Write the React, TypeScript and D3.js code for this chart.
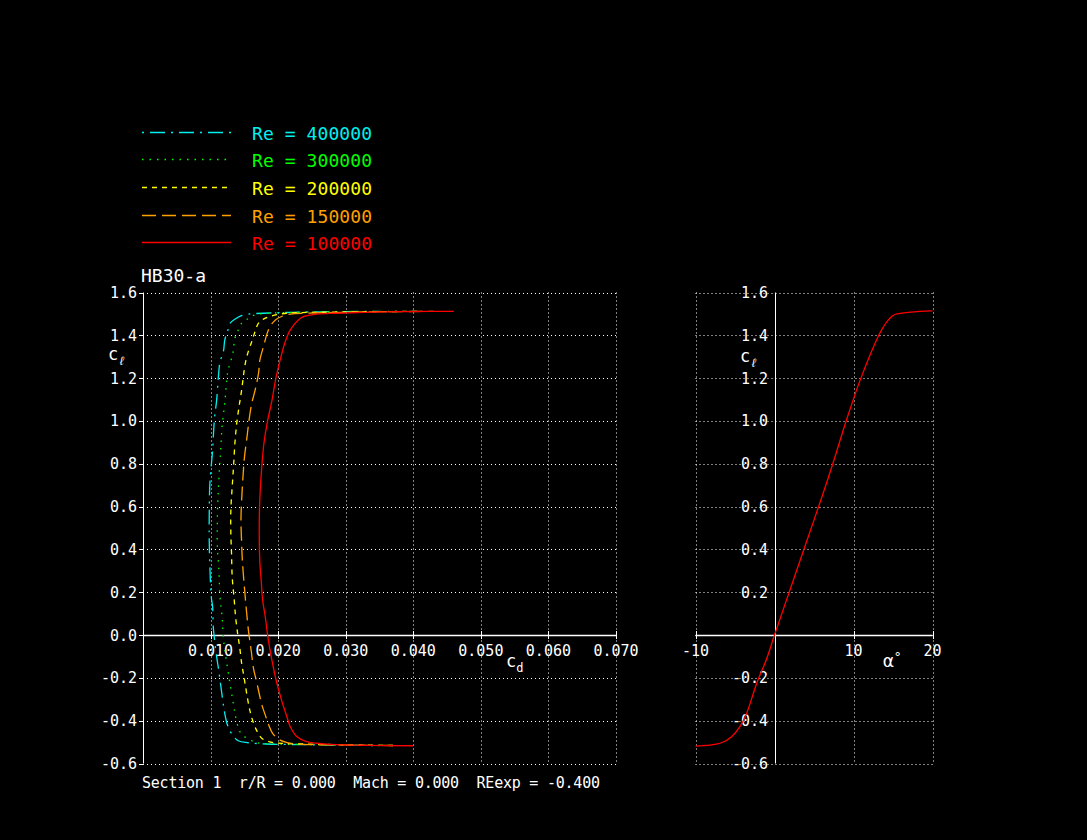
import React from "react";
import * as d3 from "d3";

// ---------- data ----------
const reLabels = ["400000", "300000", "200000", "150000", "100000"];
const seriesColors = ["#00f0f0", "#00ff00", "#ffff00", "#ffa000", "#ff0000"];
const seriesDash = ["2,6,15,6", "1.5,6", "5,5", "14,6", ""];

// drag polars: cl and cd, ordered from bottom plateau end to top plateau end
const cl400 = [-0.516, -0.514, -0.512, -0.509, -0.503, -0.494, -0.46, -0.42, -0.366, -0.327, -0.164, -0.101, -0.014, 0.039, 0.132, 0.179, 0.319, 0.444, 0.553, 0.71, 0.864, 1.005, 1.098, 1.223, 1.277, 1.324, 1.378, 1.417, 1.457, 1.475, 1.49, 1.499, 1.503, 1.508, 1.511, 1.512];
const cd400 = [0.0340, 0.0290, 0.0240, 0.0183, 0.0156, 0.0141, 0.0131, 0.0125, 0.0121, 0.0119, 0.0112, 0.0109, 0.01056, 0.0104, 0.0103, 0.0101, 0.0099, 0.0098, 0.0098, 0.0099, 0.0103, 0.01056, 0.0109, 0.0112, 0.0114, 0.0119, 0.0121, 0.0125, 0.0129, 0.0136, 0.0144, 0.0156, 0.0178, 0.0230, 0.0300, 0.0350];

const cl300 = [-0.516, -0.514, -0.511, -0.506, -0.498, -0.463, -0.431, -0.366, -0.327, -0.132, -0.016, 0.086, 0.179, 0.319, 0.413, 0.537, 0.646, 0.771, 0.864, 0.974, 1.084, 1.192, 1.238, 1.316, 1.386, 1.425, 1.457, 1.475, 1.49, 1.499, 1.506, 1.510, 1.512];
const cd300 = [0.0350, 0.0300, 0.0240, 0.0176, 0.0164, 0.0146, 0.0141, 0.0136, 0.0134, 0.0124, 0.0119, 0.0117, 0.0114, 0.0112, 0.0110, 0.0110, 0.0111, 0.0113, 0.0115, 0.0117, 0.0121, 0.0124, 0.0126, 0.0133, 0.0136, 0.0141, 0.0146, 0.0154, 0.0161, 0.0171, 0.0213, 0.0300, 0.0380];

const cl200 = [-0.516, -0.514, -0.510, -0.506, -0.501, -0.483, -0.444, -0.397, -0.335, -0.187, -0.132, -0.054, 0.008, 0.086, 0.164, 0.272, 0.382, 0.475, 0.584, 0.693, 0.787, 0.896, 0.997, 1.084, 1.145, 1.262, 1.316, 1.371, 1.41, 1.457, 1.48, 1.495, 1.503, 1.509, 1.512];
const cd200 = [0.0370, 0.0320, 0.0260, 0.0208, 0.0191, 0.0176, 0.0168, 0.0162, 0.0157, 0.0149, 0.0146, 0.0143, 0.0140, 0.0137, 0.0135, 0.0132, 0.0131, 0.0130, 0.0130, 0.0132, 0.0134, 0.0136, 0.0139, 0.0143, 0.0146, 0.0151, 0.0155, 0.0161, 0.0165, 0.0171, 0.0181, 0.0196, 0.0213, 0.0300, 0.0410];

const cl150 = [-0.516, -0.514, -0.509, -0.502, -0.491, -0.46, -0.42, -0.374, -0.327, -0.202, -0.164, -0.07, 0.023, 0.117, 0.226, 0.35, 0.428, 0.537, 0.631, 0.74, 0.826, 0.927, 1.005, 1.083, 1.145, 1.223, 1.285, 1.355, 1.402, 1.441, 1.472, 1.488, 1.499, 1.503, 1.509, 1.512];
const cd150 = [0.0370, 0.0310, 0.0228, 0.0213, 0.0203, 0.0192, 0.0186, 0.0181, 0.0176, 0.0167, 0.0164, 0.0160, 0.0156, 0.0153, 0.0150, 0.0147, 0.0146, 0.0145, 0.0146, 0.0148, 0.0150, 0.0154, 0.0157, 0.0161, 0.0166, 0.0171, 0.0173, 0.0179, 0.0183, 0.0188, 0.0196, 0.0205, 0.0218, 0.0242, 0.0320, 0.0430];

const cl100 = [-0.517, -0.515, -0.512, -0.508, -0.498, -0.475, -0.428, -0.382, -0.304, -0.21, -0.07, 0.009, 0.084, 0.164, 0.25, 0.336, 0.48, 0.645, 0.794, 0.897, 0.995, 1.098, 1.19, 1.285, 1.365, 1.425, 1.48, 1.49, 1.499, 1.503, 1.508, 1.511, 1.512];
const cd100 = [0.0400, 0.0330, 0.0287, 0.0267, 0.0242, 0.0228, 0.0218, 0.0213, 0.0205, 0.0197, 0.0188, 0.0184, 0.0181, 0.0177, 0.0175, 0.0173, 0.0172, 0.0173, 0.0176, 0.0179, 0.0184, 0.0191, 0.0196, 0.0203, 0.0210, 0.0218, 0.0233, 0.0240, 0.0257, 0.0287, 0.0340, 0.0400, 0.0460];

const polarCl = [cl400, cl300, cl200, cl150, cl100];
const polarCd = [cd400, cd300, cd200, cd150, cd100];

// lift curve (Re = 100000)
const alphaDeg = [-10, -8.2, -6.7, -5.43, -4.38, -3.53, -2.26, -1.0, 0, 2, 4, 6, 7.38, 9.07, 10.94, 13.2, 13.8, 14.24, 15.1, 17.2, 20];
const alphaCl = [-0.519, -0.514, -0.503, -0.475, -0.428, -0.366, -0.226, -0.112, 0, 0.215, 0.43, 0.645, 0.8, 1.0, 1.2, 1.4, 1.44, 1.464, 1.495, 1.508, 1.514];

const clTicks = [-0.6, -0.4, -0.2, 0.0, 0.2, 0.4, 0.6, 0.8, 1.0, 1.2, 1.4, 1.6];
const cdTicks = [0.01, 0.02, 0.03, 0.04, 0.05, 0.06, 0.07];
const alphaTicks = [-10, 10, 20];

const titleText = "HB30-a";
const footerText = "Section 1  r/R = 0.000  Mach = 0.000  REexp = -0.400";

// ---------- layout ----------
const W = 1087;
const H = 840;
const FONT = "'DejaVu Sans Mono', 'Liberation Mono', monospace";

const xL = d3.scaleLinear().domain([0, 0.07]).range([143, 616]);
const yC = d3.scaleLinear().domain([-0.6, 1.6]).range([763.5, 292.5]);
const xR = d3.scaleLinear().domain([-10, 20]).range([695.5, 932.5]);

export default function App() {
  const polarLine = d3
    .line<[number, number]>()
    .x((d) => xL(d[0]))
    .y((d) => yC(d[1]))
    .curve(d3.curveCatmullRom.alpha(0.5));
  const liftLine = d3
    .line<[number, number]>()
    .x((d) => xR(d[0]))
    .y((d) => yC(d[1]))
    .curve(d3.curveCatmullRom.alpha(0.5));

  const y0 = yC(0);
  const grid = { stroke: "#fff", strokeWidth: 1, strokeDasharray: "1,3", fill: "none" } as const;

  return (
    <svg
      width={W}
      height={H}
      style={{ position: "fixed", left: 0, top: 0, background: "#000" }}
      fontFamily={FONT}
    >
      <rect x={0} y={0} width={W} height={H} fill="#000" />

      {/* legend */}
      {reLabels.map((r, i) => {
        const ly = Math.round(131.5 + i * 27.7) + 0.5;
        return (
          <g key={r}>
            <line x1={142} x2={231} y1={ly} y2={ly} stroke={seriesColors[i]} strokeWidth={1.5}
              strokeDasharray={seriesDash[i] || undefined} />
            <text x={252} y={ly + 7} fill={seriesColors[i]} fontSize={18} textLength={120}
              style={{ whiteSpace: "pre" }}>
              {`Re = ${r}`}
            </text>
          </g>
        );
      })}

      <text x={141} y={282} fill="#fff" fontSize={18}>{titleText}</text>

      {/* ---------- left plot (drag polar) ---------- */}
      {clTicks.map((v) => (
        <line key={"lh" + v} x1={xL(0)} x2={xL(0.07)} y1={Math.round(yC(v)) + 0.5} y2={Math.round(yC(v)) + 0.5} style={grid} />
      ))}
      {cdTicks.map((v) => (
        <line key={"lv" + v} x1={Math.round(xL(v)) + 0.5} x2={Math.round(xL(v)) + 0.5} y1={yC(1.6)} y2={yC(-0.6)} style={grid} />
      ))}
      {/* axes */}
      <line x1={xL(0) + 0.5} x2={xL(0) + 0.5} y1={yC(1.6)} y2={yC(-0.6)} stroke="#fff" strokeWidth={1} />
      <line x1={xL(0)} x2={xL(0.07)} y1={Math.round(y0) + 0.5} y2={Math.round(y0) + 0.5} stroke="#fff" strokeWidth={1.5} />
      {cdTicks.map((v) => (
        <line key={"lt" + v} x1={Math.round(xL(v)) + 0.5} x2={Math.round(xL(v)) + 0.5} y1={y0 - 4} y2={y0 + 4} stroke="#fff" />
      ))}
      {clTicks.map((v) => (
        <line key={"lyt" + v} x1={xL(0) - 4} x2={xL(0)} y1={Math.round(yC(v)) + 0.5} y2={Math.round(yC(v)) + 0.5} stroke="#fff" />
      ))}
      {clTicks.map((v) => (
        <text key={"lyl" + v} x={137} y={yC(v) + 5.5} fill="#fff" fontSize={15} textAnchor="end">
          {v.toFixed(1)}
        </text>
      ))}
      {cdTicks.map((v) => (
        <text key={"lxl" + v} x={xL(v)} y={656} fill="#fff" fontSize={15} textAnchor="middle">
          {v.toFixed(3)}
        </text>
      ))}
      <text x={108} y={360} fill="#fff" fontSize={17}>
        c<tspan dy={5} fontSize={12} fontStyle="italic">ℓ</tspan>
      </text>
      <text x={506} y={667} fill="#fff" fontSize={17}>
        c<tspan dy={5} fontSize={12}>d</tspan>
      </text>

      {polarCl.map((cls, i) => (
        <path
          key={"p" + i}
          d={polarLine(cls.map((c, j) => [polarCd[i][j], c] as [number, number])) || ""}
          fill="none"
          stroke={seriesColors[i]}
          strokeWidth={1.3}
          strokeDasharray={seriesDash[i] || undefined}
        />
      ))}

      {/* ---------- right plot (lift curve) ---------- */}
      {clTicks.map((v) => (
        <line key={"rh" + v} x1={xR(-10)} x2={xR(20)} y1={Math.round(yC(v)) + 0.5} y2={Math.round(yC(v)) + 0.5} style={grid} />
      ))}
      {alphaTicks.map((v) => (
        <line key={"rv" + v} x1={Math.round(xR(v)) + 0.5} x2={Math.round(xR(v)) + 0.5} y1={yC(1.6)} y2={yC(-0.6)} style={grid} />
      ))}
      <line x1={Math.round(xR(0)) + 0.5} x2={Math.round(xR(0)) + 0.5} y1={yC(1.6)} y2={yC(-0.6)} stroke="#fff" strokeWidth={1} />
      <line x1={xR(-10)} x2={xR(20)} y1={Math.round(y0) + 0.5} y2={Math.round(y0) + 0.5} stroke="#fff" strokeWidth={1.5} />
      {alphaTicks.map((v) => (
        <line key={"rt" + v} x1={Math.round(xR(v)) + 0.5} x2={Math.round(xR(v)) + 0.5} y1={y0 - 4} y2={y0 + 4} stroke="#fff" />
      ))}
      {clTicks.filter((v) => Math.abs(v) > 1e-9).map((v) => (
        <text key={"ryl" + v} x={768} y={yC(v) + 5.5} fill="#fff" fontSize={15} textAnchor="end">
          {v.toFixed(1)}
        </text>
      ))}
      {alphaTicks.map((v) => (
        <text key={"rxl" + v} x={xR(v)} y={656} fill="#fff" fontSize={15} textAnchor="middle">
          {String(v)}
        </text>
      ))}
      <text x={740} y={362} fill="#fff" fontSize={17}>
        c<tspan dy={5} fontSize={12} fontStyle="italic">ℓ</tspan>
      </text>
      <text x={883} y={667} fill="#fff" fontSize={18}>
        α<tspan dy={-6} fontSize={13}>°</tspan>
      </text>
      <path
        d={liftLine(alphaDeg.map((a, j) => [a, alphaCl[j]] as [number, number])) || ""}
        fill="none"
        stroke={seriesColors[4]}
        strokeWidth={1.3}
      />

      <text x={142} y={788} fill="#fff" fontSize={15} textLength={458} style={{ whiteSpace: "pre" }}>
        {footerText}
      </text>
    </svg>
  );
}
